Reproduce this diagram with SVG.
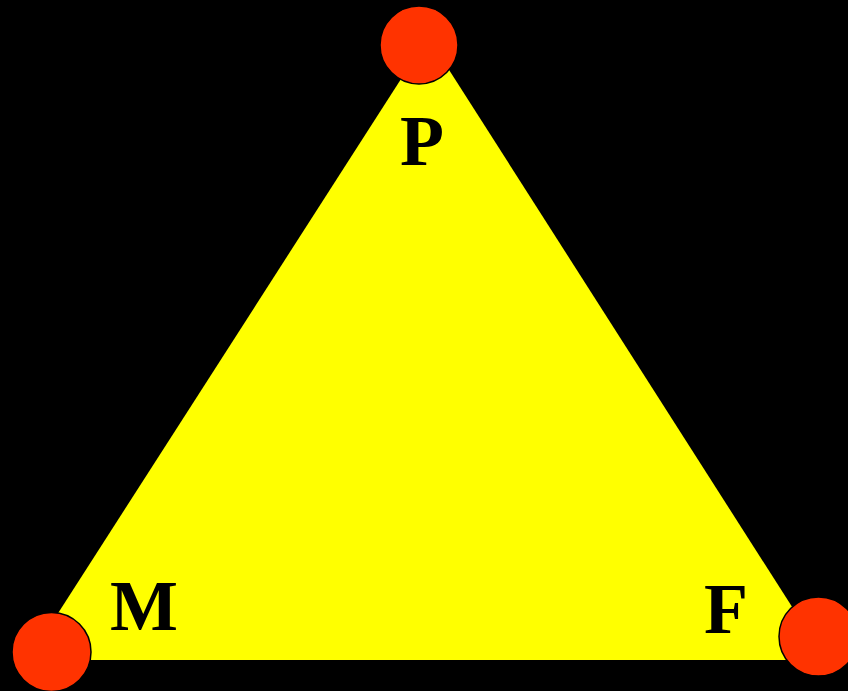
<svg xmlns="http://www.w3.org/2000/svg" width="848" height="691" viewBox="0 0 848 691">
<style>
.lbl{font-family:"Liberation Serif","Times New Roman",serif;font-weight:bold;font-size:72px;fill:#000}
.node{fill:#ff3300;stroke:#000;stroke-width:1.5}
</style>
<rect width="848" height="691" fill="#000"/>
<g id="connectors">
<polygon points="428,37 826,660 28,660" fill="#ffff00"/>
</g>
<g id="P"><circle class="node" cx="419" cy="45" r="39"/><text class="lbl" x="400" y="165">P</text></g>
<g id="M"><circle class="node" cx="51.5" cy="652" r="39.5"/><text class="lbl" x="110" y="630">M</text></g>
<g id="F"><circle class="node" cx="818.5" cy="636.5" r="39.5"/><text class="lbl" x="704" y="633">F</text></g>
</svg>
